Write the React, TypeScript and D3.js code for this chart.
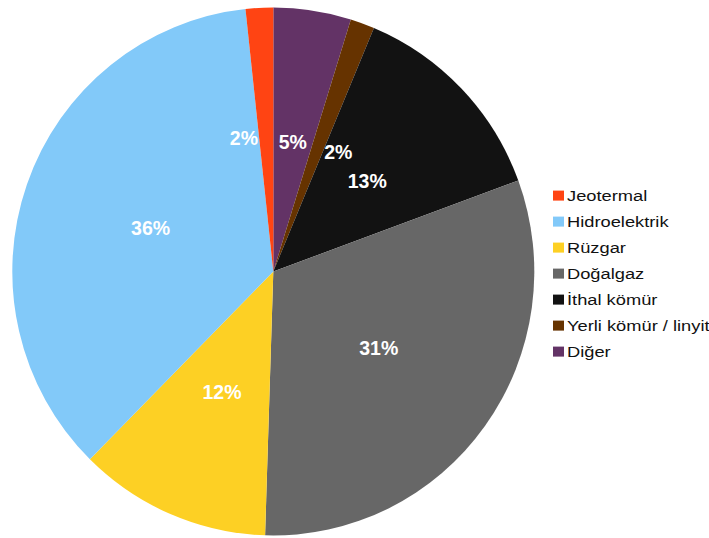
import React from "react";
import * as d3 from "d3";

const categories = ["Jeotermal", "Hidroelektrik", "Rüzgar", "Doğalgaz", "İthal kömür", "Yerli kömür / linyit", "Diğer"];
const shares = [1.7, 35.9, 11.9, 31.1, 13.1, 1.5, 4.8];
const colors = ["#FF4413", "#82C9F9", "#FDD024", "#676767", "#121212", "#663300", "#633366"];

const W = 709;
const H = 538;
const CX = 273.3;
const CY = 271.5;
const RX = 261;
const RY = 264;

// labels for tiny slices get pushed away from neighbours (degrees)
const labelNudge: Record<string, number> = { "Jeotermal": -9.5, "Yerli kömür / linyit": 8.8 };

export default function App() {
  const data = categories.map((c, i) => ({ name: c, value: shares[i], color: colors[i] }));
  // clockwise from 12 o'clock: reversed legend order
  const ordered = [...data].reverse();
  const total = d3.sum(shares);
  const pie = d3.pie<any>().value((d) => d.value).sort(null);
  const arcs = pie(ordered);
  const arc = d3.arc<any>().innerRadius(0).outerRadius(RX);
  const sy = RY / RX;

  const legendY = d3.scaleLinear().domain([0, categories.length - 1]).range([195.6, 351.6]);

  return (
    <svg width={W} height={H} style={{ position: "absolute", left: 0, top: 0, display: "block", background: "#fff" }}>
      <g transform={`translate(${CX},${CY}) scale(1,${sy})`}>
        {arcs.map((a) => (
          <path key={a.data.name} d={arc(a) as string} fill={a.data.color} />
        ))}
      </g>
      {arcs.map((a) => {
        const small = a.data.value < 3;
        const r = small ? 135 : 130;
        const mid = (a.startAngle + a.endAngle) / 2 + ((labelNudge[a.data.name] || 0) * Math.PI) / 180;
        const x = CX + r * Math.sin(mid);
        const y = CY - r * Math.cos(mid) * sy;
        const pct = Math.round((a.data.value / total) * 100);
        return (
          <text
            key={"l" + a.data.name}
            x={x}
            y={y}
            dy="0.36em"
            textAnchor="middle"
            fill="#fff"
            fontFamily="'Liberation Sans', Arial, sans-serif"
            fontWeight="bold"
            fontSize={19.5}
          >
            {pct}%
          </text>
        );
      })}
      {data.map((d, i) => {
        const cy = legendY(i);
        return (
          <g key={"lg" + d.name}>
            <rect x={553} y={cy - 5} width={11} height={10} fill={d.color} />
            <text
              transform={`translate(567,${cy + 5.6}) scale(1.18,1)`}
              fill="#111"
              fontFamily="'Liberation Sans', Arial, sans-serif"
              fontSize={15.5}
            >
              {d.name}
            </text>
          </g>
        );
      })}
    </svg>
  );
}
